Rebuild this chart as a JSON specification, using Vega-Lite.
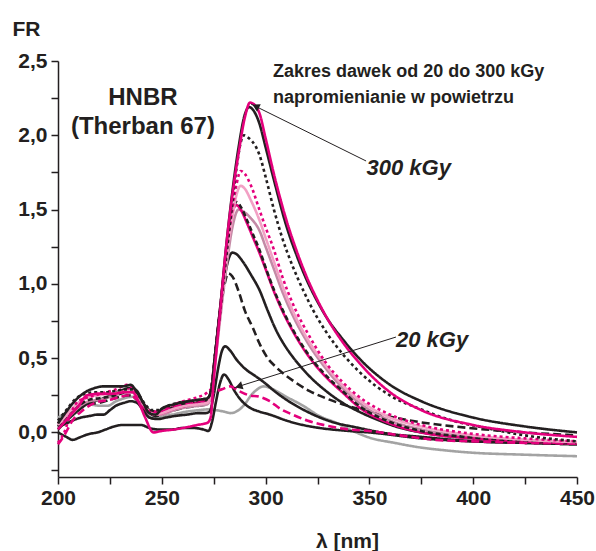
{
"$schema":"https://vega.github.io/schema/vega-lite/v6.json",
"width":519,"height":416,"autosize":"none",
"padding":{"left":58,"top":61,"right":19,"bottom":74},
"background":"white",
"config":{"view":{"stroke":null},"font":"Liberation Sans","locale":{"number":{"decimal":",","thousands":" ","grouping":[3],"currency":["",""]}}},
"datasets":{
"curves":[
{"c":"01N","x":200,"y":0.1},{"c":"01N","x":205,"y":0.14},{"c":"01N","x":210,"y":0.17},{"c":"01N","x":214,"y":0.19},{"c":"01N","x":220,"y":0.18},{"c":"01N","x":224,"y":0.18},{"c":"01N","x":228,"y":0.21},{"c":"01N","x":232,"y":0.23},{"c":"01N","x":236,"y":0.24},{"c":"01N","x":239,"y":0.2},{"c":"01N","x":242,"y":0.15},{"c":"01N","x":245,"y":0.1},{"c":"01N","x":248,"y":0.1},{"c":"01N","x":255,"y":0.12},{"c":"01N","x":262,"y":0.14},{"c":"01N","x":268,"y":0.15},{"c":"01N","x":272,"y":0.155},{"c":"01N","x":276,"y":0.15},{"c":"01N","x":280,"y":0.14},{"c":"01N","x":283,"y":0.13},{"c":"01N","x":287,"y":0.15},{"c":"01N","x":290,"y":0.19},{"c":"01N","x":293,"y":0.25},{"c":"01N","x":296,"y":0.29},{"c":"01N","x":299,"y":0.31},{"c":"01N","x":302,"y":0.3},{"c":"01N","x":305,"y":0.28},{"c":"01N","x":310,"y":0.24},{"c":"01N","x":318,"y":0.18},{"c":"01N","x":326,"y":0.11},{"c":"01N","x":334,"y":0.065},{"c":"01N","x":342,"y":0.01},{"c":"01N","x":350,"y":-0.035},{"c":"01N","x":362,"y":-0.07},{"c":"01N","x":374,"y":-0.1},{"c":"01N","x":386,"y":-0.12},{"c":"01N","x":398,"y":-0.135},{"c":"01N","x":425,"y":-0.15},{"c":"01N","x":450,"y":-0.16},
{"c":"02L","x":200,"y":0.0},{"c":"02L","x":204,"y":-0.03},{"c":"02L","x":207,"y":-0.05},{"c":"02L","x":211,"y":-0.03},{"c":"02L","x":215,"y":-0.01},{"c":"02L","x":219,"y":0.0},{"c":"02L","x":223,"y":0.02},{"c":"02L","x":227,"y":0.04},{"c":"02L","x":231,"y":0.05},{"c":"02L","x":236,"y":0.05},{"c":"02L","x":240,"y":0.05},{"c":"02L","x":244,"y":0.03},{"c":"02L","x":248,"y":0.02},{"c":"02L","x":255,"y":0.02},{"c":"02L","x":260,"y":0.03},{"c":"02L","x":265,"y":0.03},{"c":"02L","x":270,"y":0.02},{"c":"02L","x":272.5,"y":0.01},{"c":"02L","x":274,"y":0.06},{"c":"02L","x":276,"y":0.2},{"c":"02L","x":278,"y":0.33},{"c":"02L","x":280,"y":0.39},{"c":"02L","x":282,"y":0.36},{"c":"02L","x":285,"y":0.28},{"c":"02L","x":288,"y":0.22},{"c":"02L","x":292,"y":0.17},{"c":"02L","x":297,"y":0.14},{"c":"02L","x":302,"y":0.12},{"c":"02L","x":310,"y":0.08},{"c":"02L","x":318,"y":0.05},{"c":"02L","x":326,"y":0.03},{"c":"02L","x":340,"y":0.01},{"c":"02L","x":350,"y":0.0},{"c":"02L","x":375,"y":-0.04},{"c":"02L","x":400,"y":-0.06},{"c":"02L","x":425,"y":-0.07},{"c":"02L","x":450,"y":-0.08},
{"c":"03K","x":200,"y":0.04},{"c":"03K","x":204,"y":0.06},{"c":"03K","x":207,"y":0.08},{"c":"03K","x":211,"y":0.1},{"c":"03K","x":215,"y":0.11},{"c":"03K","x":219,"y":0.12},{"c":"03K","x":222,"y":0.12},{"c":"03K","x":225,"y":0.15},{"c":"03K","x":228,"y":0.18},{"c":"03K","x":232,"y":0.2},{"c":"03K","x":235,"y":0.21},{"c":"03K","x":238,"y":0.2},{"c":"03K","x":241,"y":0.15},{"c":"03K","x":244,"y":0.1},{"c":"03K","x":248,"y":0.09},{"c":"03K","x":252,"y":0.1},{"c":"03K","x":256,"y":0.11},{"c":"03K","x":262,"y":0.12},{"c":"03K","x":268,"y":0.13},{"c":"03K","x":271,"y":0.13},{"c":"03K","x":273,"y":0.14},{"c":"03K","x":275,"y":0.25},{"c":"03K","x":277,"y":0.42},{"c":"03K","x":279,"y":0.55},{"c":"03K","x":280.5,"y":0.58},{"c":"03K","x":283,"y":0.55},{"c":"03K","x":286,"y":0.49},{"c":"03K","x":290,"y":0.43},{"c":"03K","x":295,"y":0.38},{"c":"03K","x":299,"y":0.34},{"c":"03K","x":305,"y":0.27},{"c":"03K","x":310,"y":0.22},{"c":"03K","x":320,"y":0.14},{"c":"03K","x":330,"y":0.08},{"c":"03K","x":345,"y":0.03},{"c":"03K","x":360,"y":-0.01},{"c":"03K","x":375,"y":-0.03},{"c":"03K","x":400,"y":-0.06},{"c":"03K","x":425,"y":-0.07},{"c":"03K","x":450,"y":-0.08},
{"c":"04J","x":200,"y":0.06},{"c":"04J","x":205,"y":0.12},{"c":"04J","x":210,"y":0.17},{"c":"04J","x":215,"y":0.19},{"c":"04J","x":220,"y":0.2},{"c":"04J","x":225,"y":0.22},{"c":"04J","x":230,"y":0.24},{"c":"04J","x":234,"y":0.25},{"c":"04J","x":238,"y":0.22},{"c":"04J","x":241,"y":0.17},{"c":"04J","x":244,"y":0.13},{"c":"04J","x":247,"y":0.11},{"c":"04J","x":250,"y":0.12},{"c":"04J","x":256,"y":0.15},{"c":"04J","x":262,"y":0.17},{"c":"04J","x":268,"y":0.18},{"c":"04J","x":272,"y":0.19},{"c":"04J","x":273.5,"y":0.25},{"c":"04J","x":275.5,"y":0.48},{"c":"04J","x":278,"y":0.8},{"c":"04J","x":280,"y":0.98},{"c":"04J","x":282,"y":1.07},{"c":"04J","x":284,"y":1.05},{"c":"04J","x":287,"y":0.95},{"c":"04J","x":290,"y":0.82},{"c":"04J","x":294,"y":0.7},{"c":"04J","x":297,"y":0.6},{"c":"04J","x":301,"y":0.5},{"c":"04J","x":305,"y":0.44},{"c":"04J","x":313,"y":0.35},{"c":"04J","x":321,"y":0.28},{"c":"04J","x":329,"y":0.23},{"c":"04J","x":337,"y":0.19},{"c":"04J","x":350,"y":0.14},{"c":"04J","x":362,"y":0.1},{"c":"04J","x":374,"y":0.07},{"c":"04J","x":398,"y":0.03},{"c":"04J","x":425,"y":0.0},{"c":"04J","x":450,"y":-0.02},
{"c":"05I","x":200,"y":0.02},{"c":"05I","x":205,"y":0.09},{"c":"05I","x":210,"y":0.15},{"c":"05I","x":215,"y":0.2},{"c":"05I","x":220,"y":0.22},{"c":"05I","x":225,"y":0.25},{"c":"05I","x":230,"y":0.28},{"c":"05I","x":235,"y":0.3},{"c":"05I","x":238,"y":0.28},{"c":"05I","x":241,"y":0.2},{"c":"05I","x":244,"y":0.15},{"c":"05I","x":247,"y":0.13},{"c":"05I","x":250,"y":0.14},{"c":"05I","x":256,"y":0.17},{"c":"05I","x":262,"y":0.19},{"c":"05I","x":268,"y":0.2},{"c":"05I","x":272,"y":0.21},{"c":"05I","x":273.5,"y":0.26},{"c":"05I","x":275.5,"y":0.5},{"c":"05I","x":278,"y":0.82},{"c":"05I","x":280,"y":1.02},{"c":"05I","x":282,"y":1.16},{"c":"05I","x":284,"y":1.21},{"c":"05I","x":286,"y":1.2},{"c":"05I","x":289,"y":1.15},{"c":"05I","x":293,"y":1.06},{"c":"05I","x":297,"y":0.96},{"c":"05I","x":301,"y":0.82},{"c":"05I","x":305,"y":0.69},{"c":"05I","x":309,"y":0.59},{"c":"05I","x":313,"y":0.51},{"c":"05I","x":321,"y":0.38},{"c":"05I","x":329,"y":0.28},{"c":"05I","x":337,"y":0.2},{"c":"05I","x":345,"y":0.14},{"c":"05I","x":353,"y":0.09},{"c":"05I","x":365,"y":0.03},{"c":"05I","x":375,"y":0.0},{"c":"05I","x":400,"y":-0.04},{"c":"05I","x":425,"y":-0.06},{"c":"05I","x":450,"y":-0.07},
{"c":"06H","x":200,"y":0.03},{"c":"06H","x":205,"y":0.1},{"c":"06H","x":210,"y":0.17},{"c":"06H","x":215,"y":0.21},{"c":"06H","x":220,"y":0.22},{"c":"06H","x":225,"y":0.24},{"c":"06H","x":230,"y":0.26},{"c":"06H","x":235,"y":0.27},{"c":"06H","x":238,"y":0.25},{"c":"06H","x":241,"y":0.19},{"c":"06H","x":244,"y":0.14},{"c":"06H","x":247,"y":0.12},{"c":"06H","x":250,"y":0.12},{"c":"06H","x":256,"y":0.15},{"c":"06H","x":262,"y":0.17},{"c":"06H","x":268,"y":0.18},{"c":"06H","x":272,"y":0.19},{"c":"06H","x":273.5,"y":0.24},{"c":"06H","x":275.5,"y":0.45},{"c":"06H","x":278,"y":0.75},{"c":"06H","x":281,"y":1.1},{"c":"06H","x":284,"y":1.38},{"c":"06H","x":287,"y":1.5},{"c":"06H","x":290,"y":1.48},{"c":"06H","x":293,"y":1.44},{"c":"06H","x":297,"y":1.36},{"c":"06H","x":300,"y":1.25},{"c":"06H","x":304,"y":1.1},{"c":"06H","x":308,"y":0.95},{"c":"06H","x":313,"y":0.79},{"c":"06H","x":320,"y":0.61},{"c":"06H","x":329,"y":0.43},{"c":"06H","x":337,"y":0.3},{"c":"06H","x":345,"y":0.2},{"c":"06H","x":360,"y":0.08},{"c":"06H","x":375,"y":0.02},{"c":"06H","x":400,"y":-0.03},{"c":"06H","x":425,"y":-0.05},{"c":"06H","x":450,"y":-0.065},
{"c":"07G","x":200,"y":0.06},{"c":"07G","x":205,"y":0.13},{"c":"07G","x":210,"y":0.2},{"c":"07G","x":215,"y":0.25},{"c":"07G","x":220,"y":0.26},{"c":"07G","x":225,"y":0.26},{"c":"07G","x":230,"y":0.27},{"c":"07G","x":235,"y":0.29},{"c":"07G","x":238,"y":0.26},{"c":"07G","x":241,"y":0.19},{"c":"07G","x":244,"y":0.13},{"c":"07G","x":247,"y":0.12},{"c":"07G","x":250,"y":0.13},{"c":"07G","x":256,"y":0.16},{"c":"07G","x":262,"y":0.18},{"c":"07G","x":268,"y":0.2},{"c":"07G","x":272,"y":0.21},{"c":"07G","x":273.5,"y":0.26},{"c":"07G","x":275.5,"y":0.5},{"c":"07G","x":278,"y":0.82},{"c":"07G","x":281,"y":1.2},{"c":"07G","x":283.5,"y":1.46},{"c":"07G","x":286,"y":1.53},{"c":"07G","x":288,"y":1.5},{"c":"07G","x":291,"y":1.41},{"c":"07G","x":294,"y":1.31},{"c":"07G","x":297,"y":1.21},{"c":"07G","x":300,"y":1.1},{"c":"07G","x":304,"y":0.95},{"c":"07G","x":308,"y":0.82},{"c":"07G","x":312,"y":0.71},{"c":"07G","x":317,"y":0.59},{"c":"07G","x":323,"y":0.47},{"c":"07G","x":330,"y":0.36},{"c":"07G","x":337,"y":0.27},{"c":"07G","x":345,"y":0.17},{"c":"07G","x":360,"y":0.06},{"c":"07G","x":375,"y":0.0},{"c":"07G","x":400,"y":-0.04},{"c":"07G","x":425,"y":-0.06},{"c":"07G","x":450,"y":-0.075},
{"c":"08F","x":200,"y":0.04},{"c":"08F","x":205,"y":0.11},{"c":"08F","x":210,"y":0.18},{"c":"08F","x":215,"y":0.22},{"c":"08F","x":220,"y":0.23},{"c":"08F","x":225,"y":0.24},{"c":"08F","x":230,"y":0.26},{"c":"08F","x":235,"y":0.28},{"c":"08F","x":238,"y":0.25},{"c":"08F","x":241,"y":0.19},{"c":"08F","x":244,"y":0.15},{"c":"08F","x":247,"y":0.14},{"c":"08F","x":250,"y":0.15},{"c":"08F","x":256,"y":0.18},{"c":"08F","x":262,"y":0.2},{"c":"08F","x":268,"y":0.21},{"c":"08F","x":272,"y":0.22},{"c":"08F","x":273.5,"y":0.27},{"c":"08F","x":275.5,"y":0.5},{"c":"08F","x":278,"y":0.82},{"c":"08F","x":281,"y":1.2},{"c":"08F","x":283.5,"y":1.47},{"c":"08F","x":286,"y":1.55},{"c":"08F","x":288,"y":1.52},{"c":"08F","x":291,"y":1.43},{"c":"08F","x":294,"y":1.33},{"c":"08F","x":297,"y":1.23},{"c":"08F","x":300,"y":1.11},{"c":"08F","x":304,"y":0.96},{"c":"08F","x":308,"y":0.83},{"c":"08F","x":312,"y":0.72},{"c":"08F","x":317,"y":0.6},{"c":"08F","x":323,"y":0.48},{"c":"08F","x":330,"y":0.37},{"c":"08F","x":337,"y":0.28},{"c":"08F","x":345,"y":0.18},{"c":"08F","x":360,"y":0.07},{"c":"08F","x":375,"y":0.01},{"c":"08F","x":400,"y":-0.035},{"c":"08F","x":425,"y":-0.055},{"c":"08F","x":450,"y":-0.07},
{"c":"09M","x":200,"y":-0.08},{"c":"09M","x":203,"y":-0.02},{"c":"09M","x":207,"y":0.08},{"c":"09M","x":212,"y":0.15},{"c":"09M","x":218,"y":0.2},{"c":"09M","x":225,"y":0.22},{"c":"09M","x":230,"y":0.24},{"c":"09M","x":235,"y":0.25},{"c":"09M","x":238,"y":0.22},{"c":"09M","x":242,"y":0.16},{"c":"09M","x":246,"y":0.13},{"c":"09M","x":250,"y":0.14},{"c":"09M","x":255,"y":0.17},{"c":"09M","x":262,"y":0.19},{"c":"09M","x":268,"y":0.21},{"c":"09M","x":272,"y":0.23},{"c":"09M","x":275,"y":0.27},{"c":"09M","x":279,"y":0.29},{"c":"09M","x":283,"y":0.31},{"c":"09M","x":287,"y":0.28},{"c":"09M","x":292,"y":0.25},{"c":"09M","x":297,"y":0.24},{"c":"09M","x":302,"y":0.21},{"c":"09M","x":307,"y":0.16},{"c":"09M","x":313,"y":0.12},{"c":"09M","x":320,"y":0.08},{"c":"09M","x":328,"y":0.05},{"c":"09M","x":340,"y":0.02},{"c":"09M","x":350,"y":0.01},{"c":"09M","x":365,"y":-0.02},{"c":"09M","x":382,"y":-0.05},{"c":"09M","x":400,"y":-0.06},{"c":"09M","x":425,"y":-0.07},{"c":"09M","x":450,"y":-0.075},
{"c":"10E","x":200,"y":0.05},{"c":"10E","x":205,"y":0.13},{"c":"10E","x":210,"y":0.2},{"c":"10E","x":215,"y":0.24},{"c":"10E","x":220,"y":0.25},{"c":"10E","x":225,"y":0.26},{"c":"10E","x":230,"y":0.27},{"c":"10E","x":235,"y":0.28},{"c":"10E","x":238,"y":0.25},{"c":"10E","x":241,"y":0.19},{"c":"10E","x":244,"y":0.14},{"c":"10E","x":247,"y":0.12},{"c":"10E","x":250,"y":0.13},{"c":"10E","x":256,"y":0.16},{"c":"10E","x":262,"y":0.18},{"c":"10E","x":268,"y":0.19},{"c":"10E","x":272,"y":0.2},{"c":"10E","x":273.5,"y":0.25},{"c":"10E","x":275.5,"y":0.48},{"c":"10E","x":278,"y":0.78},{"c":"10E","x":281,"y":1.15},{"c":"10E","x":284,"y":1.45},{"c":"10E","x":286,"y":1.6},{"c":"10E","x":288,"y":1.66},{"c":"10E","x":290,"y":1.64},{"c":"10E","x":293,"y":1.56},{"c":"10E","x":297,"y":1.43},{"c":"10E","x":300,"y":1.31},{"c":"10E","x":304,"y":1.15},{"c":"10E","x":308,"y":0.99},{"c":"10E","x":313,"y":0.82},{"c":"10E","x":321,"y":0.61},{"c":"10E","x":329,"y":0.45},{"c":"10E","x":337,"y":0.32},{"c":"10E","x":345,"y":0.22},{"c":"10E","x":360,"y":0.1},{"c":"10E","x":375,"y":0.04},{"c":"10E","x":400,"y":-0.02},{"c":"10E","x":425,"y":-0.05},{"c":"10E","x":450,"y":-0.065},
{"c":"11D","x":200,"y":-0.07},{"c":"11D","x":203,"y":0.0},{"c":"11D","x":206,"y":0.12},{"c":"11D","x":209,"y":0.2},{"c":"11D","x":213,"y":0.23},{"c":"11D","x":218,"y":0.25},{"c":"11D","x":223,"y":0.27},{"c":"11D","x":228,"y":0.29},{"c":"11D","x":233,"y":0.32},{"c":"11D","x":236,"y":0.3},{"c":"11D","x":239,"y":0.24},{"c":"11D","x":242,"y":0.18},{"c":"11D","x":245,"y":0.14},{"c":"11D","x":248,"y":0.14},{"c":"11D","x":253,"y":0.17},{"c":"11D","x":258,"y":0.2},{"c":"11D","x":263,"y":0.22},{"c":"11D","x":268,"y":0.24},{"c":"11D","x":272,"y":0.27},{"c":"11D","x":274,"y":0.3},{"c":"11D","x":275.5,"y":0.5},{"c":"11D","x":278,"y":0.8},{"c":"11D","x":281,"y":1.2},{"c":"11D","x":284,"y":1.5},{"c":"11D","x":286,"y":1.67},{"c":"11D","x":288,"y":1.76},{"c":"11D","x":290,"y":1.74},{"c":"11D","x":293,"y":1.66},{"c":"11D","x":297,"y":1.5},{"c":"11D","x":300,"y":1.38},{"c":"11D","x":304,"y":1.23},{"c":"11D","x":308,"y":1.05},{"c":"11D","x":313,"y":0.87},{"c":"11D","x":321,"y":0.65},{"c":"11D","x":329,"y":0.47},{"c":"11D","x":337,"y":0.34},{"c":"11D","x":345,"y":0.24},{"c":"11D","x":360,"y":0.12},{"c":"11D","x":375,"y":0.05},{"c":"11D","x":400,"y":-0.01},{"c":"11D","x":425,"y":-0.04},{"c":"11D","x":450,"y":-0.06},
{"c":"12C","x":200,"y":0.08},{"c":"12C","x":204,"y":0.15},{"c":"12C","x":208,"y":0.22},{"c":"12C","x":213,"y":0.26},{"c":"12C","x":218,"y":0.27},{"c":"12C","x":223,"y":0.27},{"c":"12C","x":228,"y":0.28},{"c":"12C","x":233,"y":0.29},{"c":"12C","x":236,"y":0.29},{"c":"12C","x":239,"y":0.25},{"c":"12C","x":242,"y":0.19},{"c":"12C","x":245,"y":0.15},{"c":"12C","x":248,"y":0.15},{"c":"12C","x":253,"y":0.18},{"c":"12C","x":258,"y":0.2},{"c":"12C","x":263,"y":0.21},{"c":"12C","x":268,"y":0.22},{"c":"12C","x":272,"y":0.23},{"c":"12C","x":274,"y":0.3},{"c":"12C","x":275.5,"y":0.5},{"c":"12C","x":278,"y":0.8},{"c":"12C","x":280,"y":1.05},{"c":"12C","x":282,"y":1.3},{"c":"12C","x":284,"y":1.55},{"c":"12C","x":286,"y":1.78},{"c":"12C","x":288,"y":1.95},{"c":"12C","x":289.5,"y":2.0},{"c":"12C","x":292,"y":1.98},{"c":"12C","x":295,"y":1.93},{"c":"12C","x":297,"y":1.87},{"c":"12C","x":300,"y":1.72},{"c":"12C","x":304,"y":1.5},{"c":"12C","x":308,"y":1.31},{"c":"12C","x":313,"y":1.12},{"c":"12C","x":318,"y":0.96},{"c":"12C","x":323,"y":0.82},{"c":"12C","x":329,"y":0.68},{"c":"12C","x":337,"y":0.53},{"c":"12C","x":345,"y":0.41},{"c":"12C","x":361,"y":0.24},{"c":"12C","x":374,"y":0.16},{"c":"12C","x":390,"y":0.08},{"c":"12C","x":406,"y":0.03},{"c":"12C","x":425,"y":-0.02},{"c":"12C","x":450,"y":-0.06},
{"c":"13B","x":200,"y":0.06},{"c":"13B","x":204,"y":0.14},{"c":"13B","x":208,"y":0.21},{"c":"13B","x":213,"y":0.27},{"c":"13B","x":218,"y":0.3},{"c":"13B","x":222,"y":0.31},{"c":"13B","x":227,"y":0.31},{"c":"13B","x":231,"y":0.31},{"c":"13B","x":235,"y":0.32},{"c":"13B","x":238,"y":0.27},{"c":"13B","x":241,"y":0.2},{"c":"13B","x":244,"y":0.13},{"c":"13B","x":247,"y":0.12},{"c":"13B","x":250,"y":0.16},{"c":"13B","x":256,"y":0.19},{"c":"13B","x":263,"y":0.21},{"c":"13B","x":268,"y":0.22},{"c":"13B","x":272,"y":0.23},{"c":"13B","x":274,"y":0.3},{"c":"13B","x":275.5,"y":0.5},{"c":"13B","x":278,"y":0.82},{"c":"13B","x":281,"y":1.25},{"c":"13B","x":284,"y":1.62},{"c":"13B","x":287,"y":1.92},{"c":"13B","x":290,"y":2.14},{"c":"13B","x":292,"y":2.19},{"c":"13B","x":294,"y":2.17},{"c":"13B","x":297,"y":2.08},{"c":"13B","x":300,"y":1.92},{"c":"13B","x":304,"y":1.7},{"c":"13B","x":310,"y":1.39},{"c":"13B","x":315,"y":1.19},{"c":"13B","x":320,"y":1.02},{"c":"13B","x":325,"y":0.88},{"c":"13B","x":330,"y":0.76},{"c":"13B","x":337,"y":0.63},{"c":"13B","x":345,"y":0.5},{"c":"13B","x":360,"y":0.32},{"c":"13B","x":375,"y":0.21},{"c":"13B","x":400,"y":0.1},{"c":"13B","x":425,"y":0.04},{"c":"13B","x":450,"y":0.0},
{"c":"14A","x":200,"y":0.02},{"c":"14A","x":205,"y":0.1},{"c":"14A","x":210,"y":0.18},{"c":"14A","x":214,"y":0.25},{"c":"14A","x":220,"y":0.26},{"c":"14A","x":226,"y":0.26},{"c":"14A","x":232,"y":0.27},{"c":"14A","x":236,"y":0.27},{"c":"14A","x":239,"y":0.2},{"c":"14A","x":242,"y":0.1},{"c":"14A","x":246,"y":0.0},{"c":"14A","x":250,"y":0.01},{"c":"14A","x":256,"y":0.02},{"c":"14A","x":262,"y":0.035},{"c":"14A","x":267,"y":0.05},{"c":"14A","x":272,"y":0.065},{"c":"14A","x":273.5,"y":0.1},{"c":"14A","x":275,"y":0.35},{"c":"14A","x":276,"y":0.5},{"c":"14A","x":278,"y":0.8},{"c":"14A","x":281,"y":1.25},{"c":"14A","x":284,"y":1.6},{"c":"14A","x":287,"y":1.88},{"c":"14A","x":290,"y":2.12},{"c":"14A","x":292.5,"y":2.22},{"c":"14A","x":295,"y":2.2},{"c":"14A","x":297,"y":2.15},{"c":"14A","x":300,"y":1.98},{"c":"14A","x":304,"y":1.74},{"c":"14A","x":310,"y":1.43},{"c":"14A","x":315,"y":1.22},{"c":"14A","x":320,"y":1.04},{"c":"14A","x":325,"y":0.89},{"c":"14A","x":330,"y":0.76},{"c":"14A","x":337,"y":0.61},{"c":"14A","x":345,"y":0.47},{"c":"14A","x":360,"y":0.27},{"c":"14A","x":375,"y":0.15},{"c":"14A","x":400,"y":0.05},{"c":"14A","x":425,"y":0.0},{"c":"14A","x":450,"y":-0.03}
]},
"encoding":{
  "x":{"field":"x","type":"quantitative","title":"λ [nm]","scale":{"domain":[200,450],"nice":false,"zero":false},
   "axis":{"values":[200,225,250,275,300,325,350,375,400,425,450],"format":"d","labelExpr":"datum.value % 50 == 0 ? datum.label : ''","labelOverlap":false,"grid":false,"domainColor":"#231f20","domainWidth":1.5,"tickColor":"#231f20","tickWidth":1.5,"tickSize":7,"labelFont":"Liberation Sans","labelFontWeight":"bold","labelFontSize":21,"labelColor":"#231f20","labelPadding":3,"labelFlush":false,"titleFont":"Liberation Sans","titleFontWeight":"bold","titleFontSize":21,"titleColor":"#231f20","titleX":289,"titleY":70,"titleBaseline":"alphabetic","titleAnchor":"middle"}},
  "y":{"field":"y","type":"quantitative","title":"FR","scale":{"domain":[-0.3,2.5],"nice":false,"zero":false},
   "axis":{"values":[-0.25,0,0.25,0.5,0.75,1,1.25,1.5,1.75,2,2.25,2.5],"format":".1f","labelExpr":"(datum.value*4) % 2 == 0 ? datum.label : ''","labelOverlap":false,"grid":false,"domainColor":"#231f20","domainWidth":1.5,"tickColor":"#231f20","tickWidth":1.5,"tickSize":7,"labelFont":"Liberation Sans","labelFontWeight":"bold","labelFontSize":21,"labelColor":"#231f20","labelPadding":4,"labelFlush":false,"titleFont":"Liberation Sans","titleFontWeight":"bold","titleFontSize":21,"titleColor":"#231f20","titleAngle":0,"titleAlign":"left","titleBaseline":"alphabetic","titleX":-46,"titleY":-26}}
},
"layer":[
{"data":{"name":"curves"},
 "mark":{"type":"line","interpolate":"monotone","strokeWidth":2.6,"strokeCap":"butt"},
 "encoding":{
  "color":{"field":"c","type":"nominal","legend":null,"scale":{"domain":["01N","02L","03K","04J","05I","06H","07G","08F","09M","10E","11D","12C","13B","14A"],"range":["#a3a3a3","#231f20","#231f20","#231f20","#231f20","#c48aa6","#e4007c","#231f20","#e4007c","#f2a0c4","#e4007c","#231f20","#231f20","#e4007c"]}},
  "strokeDash":{"field":"c","type":"nominal","legend":null,"scale":{"domain":["01N","02L","03K","04J","05I","06H","07G","08F","09M","10E","11D","12C","13B","14A"],"range":[[1,0],[1,0],[1,0],[8,4],[1,0],[1,0],[1,0],[5,3],[8,4],[1,0],[3,3],[3,3],[1,0],[1,0]]}}
 }},
{"data":{"values":[{"x":293.0,"y":2.21,"x2":348.4,"y2":1.827},{"x":284.8,"y":0.30,"x2":362.8,"y2":0.642}]},
 "mark":{"type":"rule","color":"#231f20","strokeWidth":1},
 "encoding":{"x2":{"field":"x2"},"y2":{"field":"y2"}}},
{"data":{"values":[{"x":295.2,"y":2.195,"a":26},{"x":287.1,"y":0.31,"a":343}]},
 "mark":{"type":"point","shape":"triangle-left","filled":true,"color":"#231f20","size":70,"opacity":1},
 "encoding":{"angle":{"field":"a","type":"quantitative","scale":null}}},
{"data":{"values":[{"t":"HNBR","x":240.9,"y":2.204},{"t":"(Therban 67)","x":240.9,"y":2.012}]},
 "mark":{"type":"text","font":"Liberation Sans","fontWeight":"bold","fontSize":24,"align":"center","baseline":"alphabetic","color":"#231f20"},
 "encoding":{"text":{"field":"t"}}},
{"data":{"values":[{"t":"Zakres dawek od 20 do 300 kGy","x":303.6,"y":2.392},{"t":"napromienianie w powietrzu","x":303.6,"y":2.217}]},
 "mark":{"type":"text","font":"Liberation Sans","fontWeight":"bold","fontSize":18,"align":"left","baseline":"alphabetic","color":"#231f20"},
 "encoding":{"text":{"field":"t"}}},
{"data":{"values":[{"t":"300 kGy","x":348.6,"y":1.733},{"t":"20 kGy","x":362.8,"y":0.577}]},
 "mark":{"type":"text","font":"Liberation Sans","fontWeight":"bold","fontStyle":"italic","fontSize":22,"align":"left","baseline":"alphabetic","color":"#231f20"},
 "encoding":{"text":{"field":"t"}}}
]
}
